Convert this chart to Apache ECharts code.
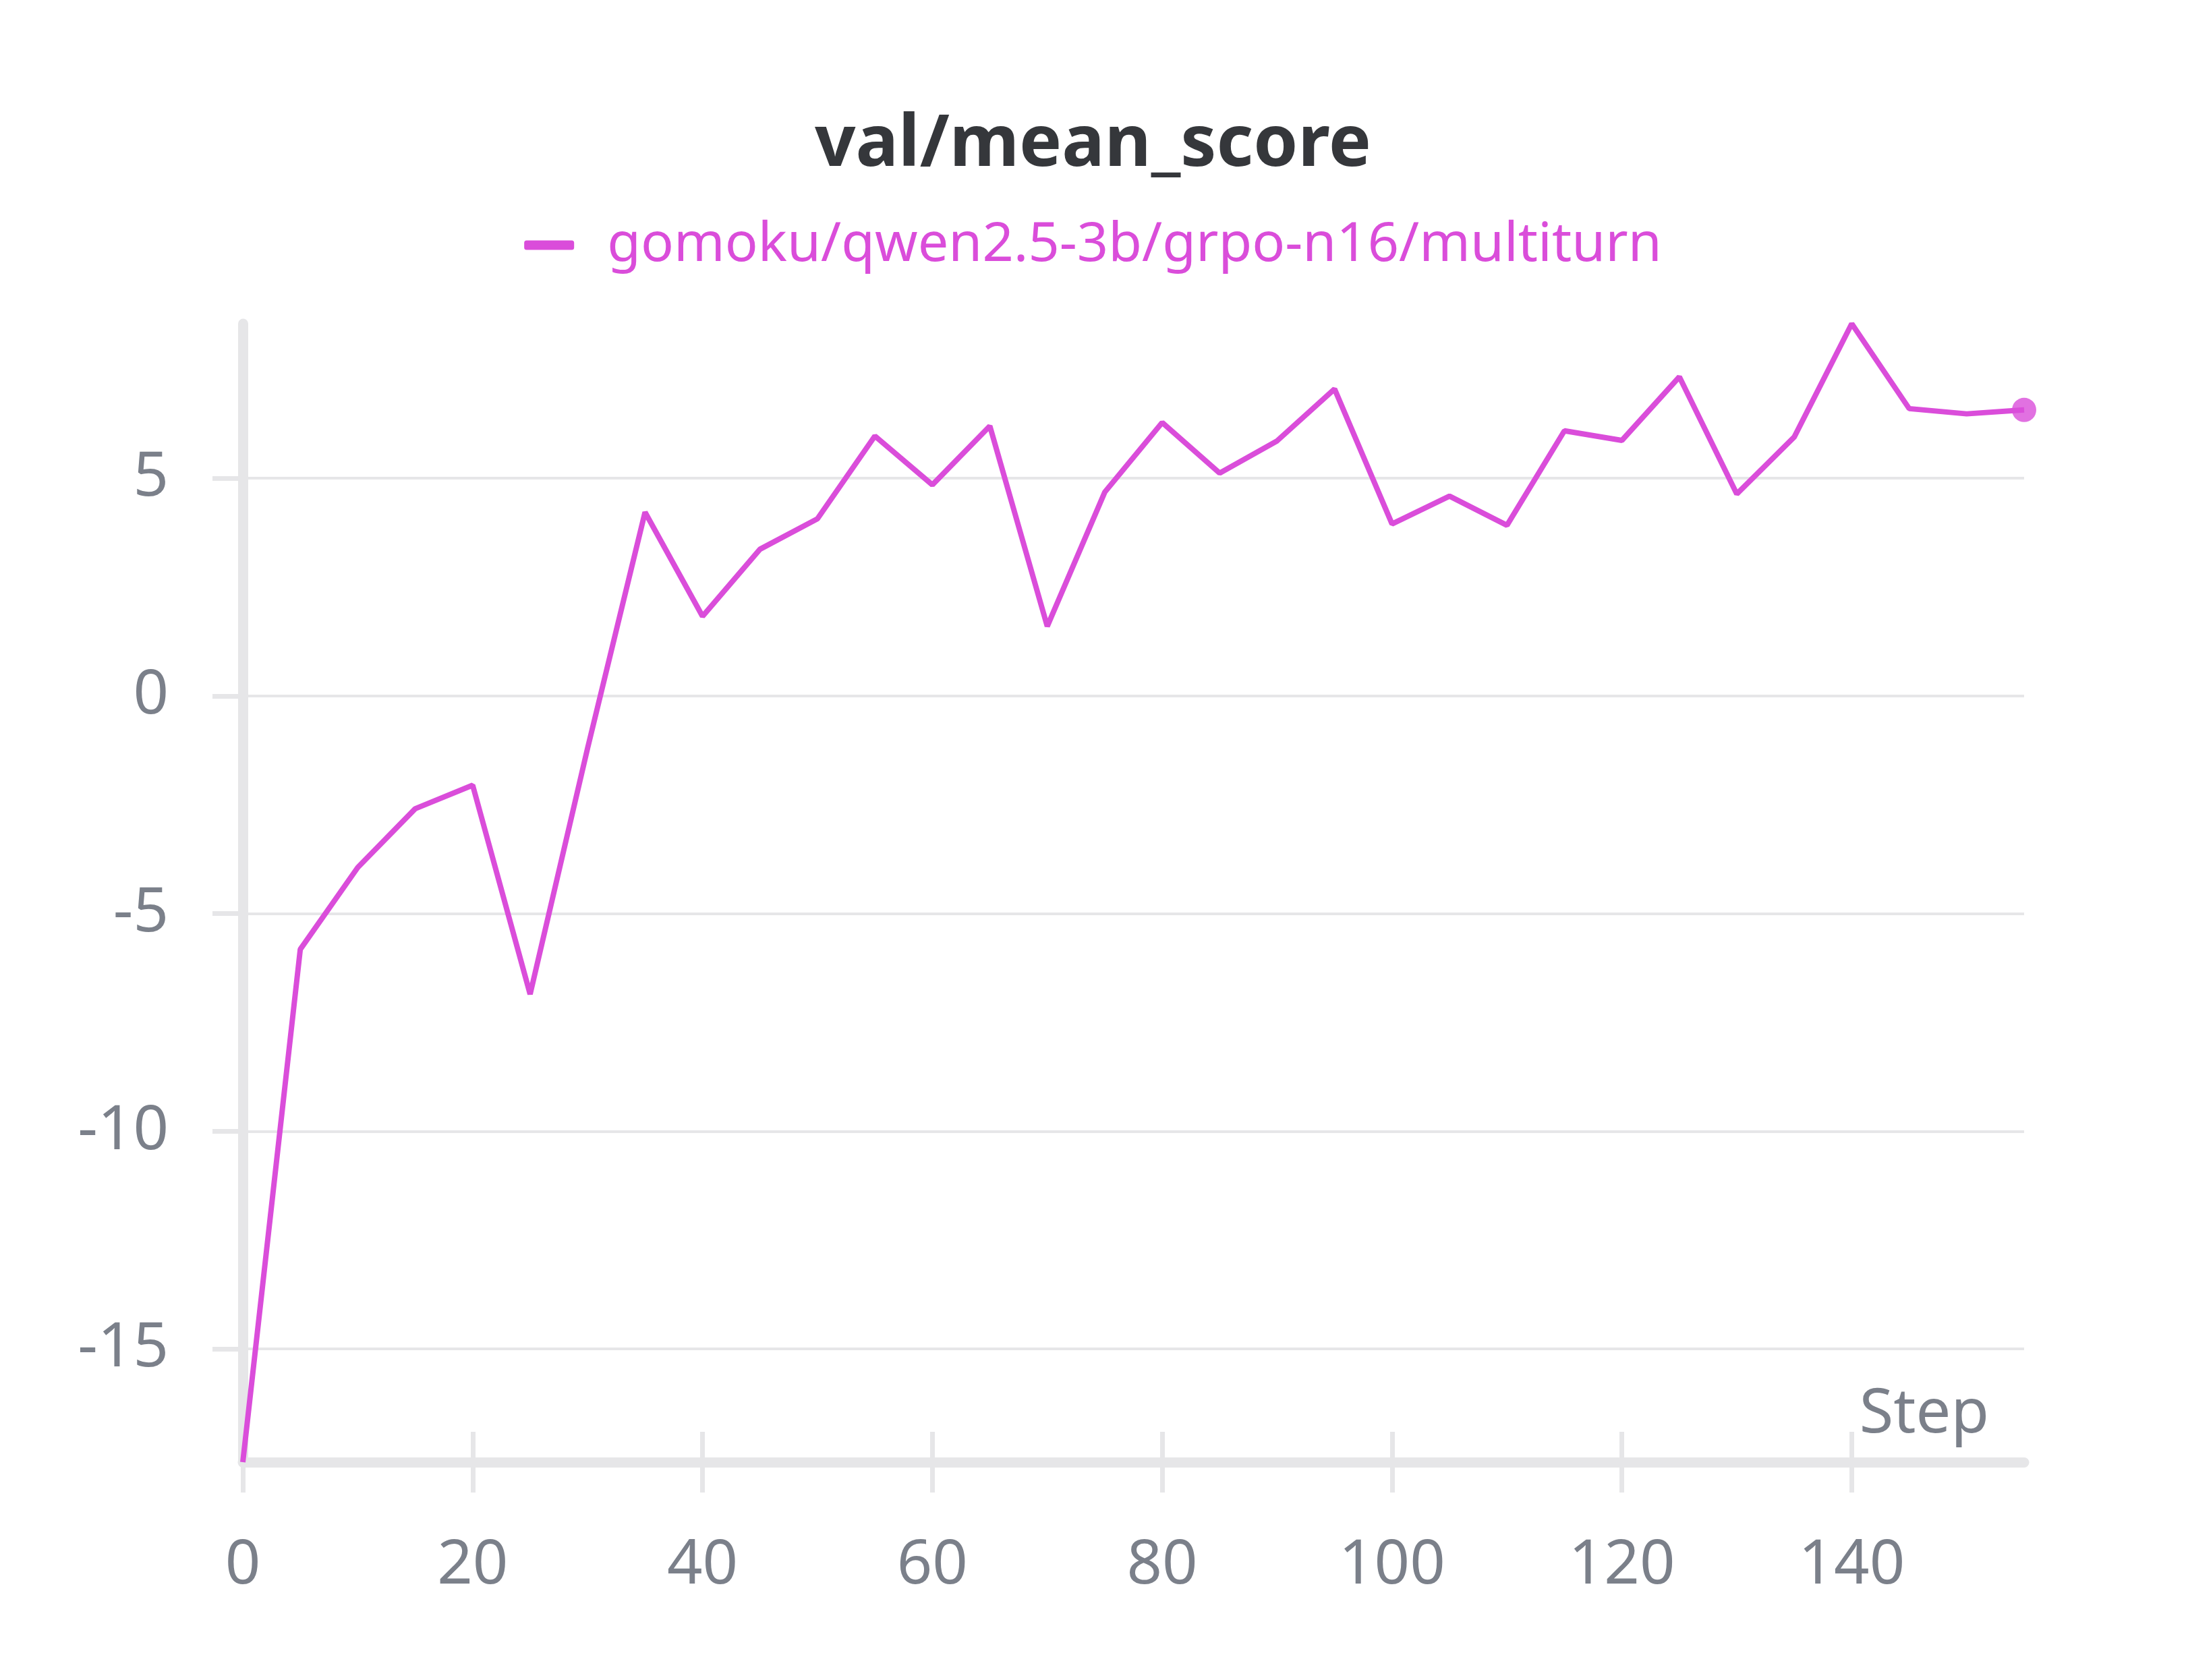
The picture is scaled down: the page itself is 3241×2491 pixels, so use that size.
<!DOCTYPE html>
<html>
<head>
<meta charset="utf-8">
<script src="https://cdn.jsdelivr.net/npm/echarts@6/dist/echarts.min.js"></script>
<style>
  html, body { margin: 0; padding: 0; background: #fff; }
  #chart { width: 3241px; height: 2491px; }
</style>
</head>
<body>
<div id="chart"></div>
<script>
// 数据
const seriesName = 'gomoku/qwen2.5-3b/grpo-n16/multiturn'
const steps = [0, 5, 10, 15, 20, 25, 30, 35, 40, 45, 50, 55, 60, 65, 70, 75,
  80, 85, 90, 95, 100, 105, 110, 115, 120, 125, 130, 135, 140, 145, 150, 155]
const scores = [-17.6, -5.82, -3.94, -2.59, -2.05, -6.85, -1.2, 4.22, 1.83, 3.37, 4.07, 5.97, 4.85, 6.2, 1.6, 4.68,
  6.28, 5.12, 5.86, 7.05, 3.95, 4.59, 3.92, 6.09, 5.87, 7.33, 4.64, 5.95, 8.55, 6.6, 6.48, 6.57]
const xTicks = [0, 20, 40, 60, 80, 100, 120, 140]
const yTicks = [-15, -10, -5, 0, 5]

const lineColor = '#da4dda'
const axisGrey = '#e6e6e8'
const labelGrey = '#7b808a'
const font = 'Noto Sans'

const points = steps.map((s, i) => [s, scores[i]])
const last = points[points.length - 1]

// 刻度线两侧都有：一条轴画外侧刻度，另一条画内侧刻度
const makeX = (inside) => ({
  type: 'value',
  min: steps[0],
  max: steps[steps.length - 1],
  position: 'bottom',
  name: inside ? '' : 'Step',
  nameLocation: 'end',
  nameGap: -52,
  nameTextStyle: {
    color: labelGrey, fontFamily: font, fontSize: 92,
    align: 'right', verticalAlign: 'bottom', padding: [0, 0, 24, 0]
  },
  axisLine: { show: !inside, onZero: false, lineStyle: { color: axisGrey, width: 15 } },
  axisTick: { show: true, inside: inside, length: 45, customValues: xTicks, lineStyle: { color: axisGrey, width: 7 } },
  axisLabel: {
    show: !inside, customValues: xTicks, margin: 108,
    color: labelGrey, fontFamily: font, fontSize: 92
  },
  splitLine: { show: false }
})

const makeY = (inside) => ({
  type: 'value',
  min: 'dataMin',
  max: 'dataMax',
  position: 'left',
  axisLine: { show: !inside, onZero: false, lineStyle: { color: axisGrey, width: 15 } },
  axisTick: { show: true, inside: inside, length: 45, customValues: yTicks, lineStyle: { color: axisGrey, width: 7 } },
  axisLabel: {
    show: !inside, customValues: yTicks, margin: 110,
    color: labelGrey, fontFamily: font, fontSize: 92
  },
  splitLine: { show: !inside, lineStyle: { color: axisGrey, width: 4 } }
})

const chart = echarts.init(document.getElementById('chart'), null, { renderer: 'canvas' })

chart.setOption({
  backgroundColor: '#ffffff',
  animation: false,
  title: {
    text: 'val/mean_score',
    left: 'center',
    top: 158,
    textStyle: { color: '#35373b', fontFamily: font, fontWeight: 'bold', fontSize: 106 }
  },
  legend: {
    top: 318,
    left: 'center',
    icon: 'roundRect',
    itemWidth: 74,
    itemHeight: 14,
    textStyle: { color: lineColor, fontFamily: font, fontSize: 81, padding: [0, 0, 0, 44] },
    data: [seriesName]
  },
  grid: { left: 360, right: 240, top: 480, bottom: 323, containLabel: false },
  xAxis: [makeX(false), makeX(true)],
  yAxis: [makeY(false), makeY(true)],
  series: [
    {
      name: seriesName,
      type: 'line',
      data: points,
      showSymbol: false,
      symbol: 'none',
      lineStyle: { color: lineColor, width: 8 },
      itemStyle: { color: lineColor },
      z: 3
    },
    {
      name: seriesName + '-end',
      type: 'scatter',
      data: [last],
      symbol: 'circle',
      symbolSize: 36,
      itemStyle: { color: lineColor },
      z: 4
    }
  ]
})
</script>
</body>
</html>
